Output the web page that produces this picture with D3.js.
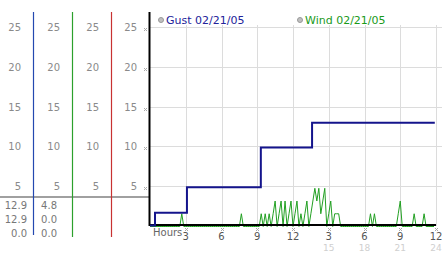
<!DOCTYPE html>
<html>
<head>
<meta charset="utf-8">
<script src="https://cdn.jsdelivr.net/npm/d3@7"></script>
<style>
  body { margin: 0; background: #fff; }
  text { font-family: "DejaVu Sans", Verdana, sans-serif; }
</style>
</head>
<body>
<div id="chart"></div>
<script>
// y ticks shown in the side columns and on the chart
var yTicks = [5, 10, 15, 20, 25];

// hour axis
var hourTicks = [3, 6, 9, 12, 15, 18, 21, 24];
var hourLabels = ["3", "6", "9", "12", "3", "6", "9", "12"];
var dayTicks = [15, 18, 21, 24];
var dayLabels = ["15", "18", "21", "24"];

// gust: step series (hour the value starts, value)
var gustHours = [0, 0.42, 3.1, 9.3, 13.6, 23.9];
var gustValues = [0, 1.6, 4.8, 9.8, 12.9, 12.9];

// wind: one reading every 10 minutes, one row per hour
var windByHour = [
  [0, 0, 0, 0, 0, 0],
  [0, 0, 0, 0, 0, 0],
  [0, 0, 0, 0, 1.6, 0],
  [0, 0, 0, 0, 0, 0],
  [0, 0, 0, 0, 0, 0],
  [0, 0, 0, 0, 0, 0],
  [0, 0, 0, 0, 0, 0],
  [0, 0, 0, 0, 1.6, 0],
  [0, 0, 0, 0, 0, 0],
  [0, 0, 1.6, 0, 1.6, 0],
  [1.6, 0, 1.6, 3.2, 0, 1.6],
  [3.2, 0, 3.2, 0, 1.6, 3.2],
  [0, 1.6, 3.2, 0, 1.6, 0],
  [1.6, 3.2, 0, 1.6, 3.2, 4.8],
  [3.2, 4.8, 1.6, 3.2, 4.8, 0],
  [1.6, 3.2, 0, 1.6, 1.6, 1.6],
  [0, 0, 0, 0, 0, 0],
  [0, 0, 0, 0, 0, 0],
  [0, 0, 0, 1.6, 0, 1.6],
  [0, 0, 0, 0, 0, 0],
  [0, 0, 0, 0, 0, 1.6],
  [3.2, 0, 0, 0, 0, 0],
  [0, 1.6, 0, 0, 0, 0],
  [1.6, 0, 0, 0, 0, 0]
];

// side columns: max / current / min
var gustStats = ["12.9", "12.9", "0.0"];
var windStats = ["4.8", "0.0", "0.0"];

var columnColors = ["#2448b0", "#2ca02c", "#c83232", "#000"];
var columnEdges = [0, 33, 72, 111, 149];

var width = 442, height = 253;

var svg = d3.select("#chart")
    .append("svg")
        .attr("width", width)
        .attr("height", height);

var xScale = d3.scaleLinear()
    .domain([0, 24])
    .range([150, 436]);

var yScale = d3.scaleLinear()
    .domain([0, 25])
    .range([226, 27]);

// grid
svg.append("g")
    .selectAll("line")
    .data(yTicks)
    .enter()
    .append("line")
        .attr("x1", 150)
        .attr("x2", width)
        .attr("y1", d => Math.round(yScale(d)) + 0.5)
        .attr("y2", d => Math.round(yScale(d)) + 0.5)
        .attr("stroke", "#dcdcdc");

svg.append("g")
    .selectAll("line")
    .data(hourTicks)
    .enter()
    .append("line")
        .attr("x1", d => Math.round(xScale(d)) + 0.5)
        .attr("x2", d => Math.round(xScale(d)) + 0.5)
        .attr("y1", 25)
        .attr("y2", 226)
        .attr("stroke", "#dcdcdc");

// side columns
var cols = svg.append("g");
for (var c = 0; c < 4; c++) {
  var right = columnEdges[c + 1];
  cols.append("g")
      .selectAll("text")
      .data(yTicks)
      .enter()
      .append("text")
          .attr("x", right - 12)
          .attr("y", d => yScale(d) + 4)
          .attr("text-anchor", "end")
          .attr("font-size", "10px")
          .attr("fill", "#8a8a8a")
          .text(d => d);
}

// little tick marks next to the last column
svg.append("g")
    .selectAll("path")
    .data(yTicks)
    .enter()
    .append("path")
        .attr("d", d => {
          var y = Math.round(yScale(d)) + 1;
          return "M144," + y + "l3,3M147," + y + "l-3,3";
        })
        .attr("stroke", "#aaa")
        .attr("stroke-width", 1)
        .attr("fill", "none");

// separator above the stats
svg.append("line")
    .attr("x1", 0)
    .attr("x2", 149)
    .attr("y1", 197)
    .attr("y2", 197)
    .attr("stroke", "#a0a0a0")
    .attr("stroke-width", 2);

[gustStats, windStats].forEach(function(stats, c) {
  svg.append("g")
      .selectAll("text")
      .data(stats)
      .enter()
      .append("text")
          .attr("x", c == 0 ? 27 : 57)
          .attr("y", (d, i) => 209 + i * 14)
          .attr("text-anchor", "end")
          .attr("font-size", "10px")
          .attr("fill", "#777")
          .text(d => d);
});

// colored column lines
for (var c = 0; c < 3; c++) {
  svg.append("line")
      .attr("x1", columnEdges[c + 1] + 0.5)
      .attr("x2", columnEdges[c + 1] + 0.5)
      .attr("y1", 12)
      .attr("y2", c == 0 ? 235 : 237)
      .attr("stroke", columnColors[c])
      .attr("stroke-width", 1.2);
}

// wind line
var wind = windByHour.flat();
var windLine = d3.line()
    .x((d, i) => xScale(i / 6))
    .y(d => yScale(d) + 0.5);

svg.append("path")
    .datum(wind)
    .attr("d", windLine)
    .attr("fill", "none")
    .attr("stroke", "#22a022")
    .attr("stroke-width", 1);

// axes
svg.append("line")
    .attr("x1", 150)
    .attr("x2", 436)
    .attr("y1", 225)
    .attr("y2", 225)
    .attr("stroke", "#000")
    .attr("stroke-width", 2);

svg.append("line")
    .attr("x1", 149.5)
    .attr("x2", 149.5)
    .attr("y1", 12)
    .attr("y2", 226)
    .attr("stroke", "#000")
    .attr("stroke-width", 2);

// gust line
var gustLine = d3.line()
    .x((d, i) => xScale(gustHours[i]))
    .y(d => yScale(d) - 0.5)
    .curve(d3.curveStepAfter);

svg.append("path")
    .datum(gustValues)
    .attr("d", gustLine)
    .attr("fill", "none")
    .attr("stroke", "#14148c")
    .attr("stroke-width", 2);

// hour axis labels
svg.append("text")
    .attr("x", 153)
    .attr("y", 236)
    .attr("font-size", "10px")
    .attr("fill", "#666")
    .text("Hours");

svg.append("g")
    .selectAll("path")
    .data(hourTicks)
    .enter()
    .append("path")
        .attr("d", d => {
          var x = Math.round(xScale(d)) - 1;
          return "M" + x + ",228l3,3M" + (x + 3) + ",228l-3,3";
        })
        .attr("stroke", "#aaa")
        .attr("fill", "none");

svg.append("g")
    .selectAll("text")
    .data(hourTicks)
    .enter()
    .append("text")
        .attr("x", d => xScale(d))
        .attr("y", 240)
        .attr("text-anchor", "middle")
        .attr("font-size", "10px")
        .attr("fill", "#555")
        .text((d, i) => hourLabels[i]);

svg.append("g")
    .selectAll("text")
    .data(dayTicks)
    .enter()
    .append("text")
        .attr("x", d => xScale(d))
        .attr("y", 250.5)
        .attr("text-anchor", "middle")
        .attr("font-size", "9px")
        .attr("fill", "#cfcfcf")
        .text((d, i) => dayLabels[i]);

// legend
var legend = [
  {label: "Gust 02/21/05", x: 161, color: "#22229a"},
  {label: "Wind 02/21/05", x: 300, color: "#1a9a1a"}
];

svg.append("g")
    .selectAll("circle")
    .data(legend)
    .enter()
    .append("circle")
        .attr("cx", d => d.x)
        .attr("cy", 20)
        .attr("r", 2.5)
        .attr("fill", "#c0c0c0")
        .attr("stroke", "#999");

svg.append("g")
    .selectAll("text")
    .data(legend)
    .enter()
    .append("text")
        .attr("x", d => d.x + 5)
        .attr("y", 24)
        .attr("font-size", "11px")
        .attr("fill", d => d.color)
        .text(d => d.label);
</script>
</body>
</html>
